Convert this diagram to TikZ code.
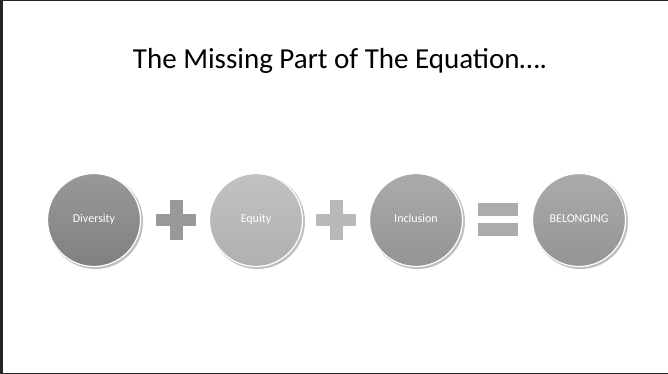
\documentclass[tikz,border=0pt]{standalone}
\usepackage{fontspec}
\setmainfont{Carlito}
\begin{document}
\begin{tikzpicture}[x=1pt,y=-1pt,
  ball/.style={circle, minimum size=93pt, inner sep=0pt, draw=white, line width=1.2pt,
    text=white, font=\fontsize{12}{14}\selectfont, text height=8pt, text depth=2.5pt},
  opbar/.style={fill=gray!80, draw=none}]
\useasboundingbox (0,0) rectangle (668,374);
\fill[white] (0,0) rectangle (668,374);
\draw[line width=2.5pt,black!85] (1.25,0) -- (1.25,374);
\draw[line width=1.5pt,black!85] (0,0.75) -- (668,0.75);
\draw[line width=1.5pt,black!85] (0,373.25) -- (668,373.25);
\node[font=\fontsize{29}{33}\selectfont] (title) at (340,61) {The Missing Part of The Equation….};
% circles
\foreach \n/\x/\ctop/\cbot/\t in {div/94/black!40/black!50/Diversity,
                             equ/256/black!24/black!31/Equity,
                             inc/416/black!33/black!42/Inclusion,
                             bel/579/black!33/black!42/BELONGING}{
  \fill[black!25] (\x+1.5,221.5) circle (47.5pt);
  \node[ball, top color=\ctop, bottom color=\cbot] (\n) at (\x,220) {\t};
}
% plus 1
\node[opbar, minimum width=40pt, minimum height=12pt, inner sep=0pt] (p1h) at (176,220) {};
\node[opbar, minimum width=13pt, minimum height=40pt, inner sep=0pt] (p1v) at (176.5,220) {};
% plus 2
\node[opbar, fill=gray!55, minimum width=40pt, minimum height=12pt, inner sep=0pt] (p2h) at (336,220) {};
\node[opbar, fill=gray!55, minimum width=13pt, minimum height=40pt, inner sep=0pt] (p2v) at (336.5,220) {};
% equals
\node[opbar, fill=gray!65, minimum width=40pt, minimum height=13pt, inner sep=0pt] (e1) at (498,209.5) {};
\node[opbar, fill=gray!65, minimum width=40pt, minimum height=13pt, inner sep=0pt] (e2) at (498,229.5) {};
\end{tikzpicture}
\end{document}
